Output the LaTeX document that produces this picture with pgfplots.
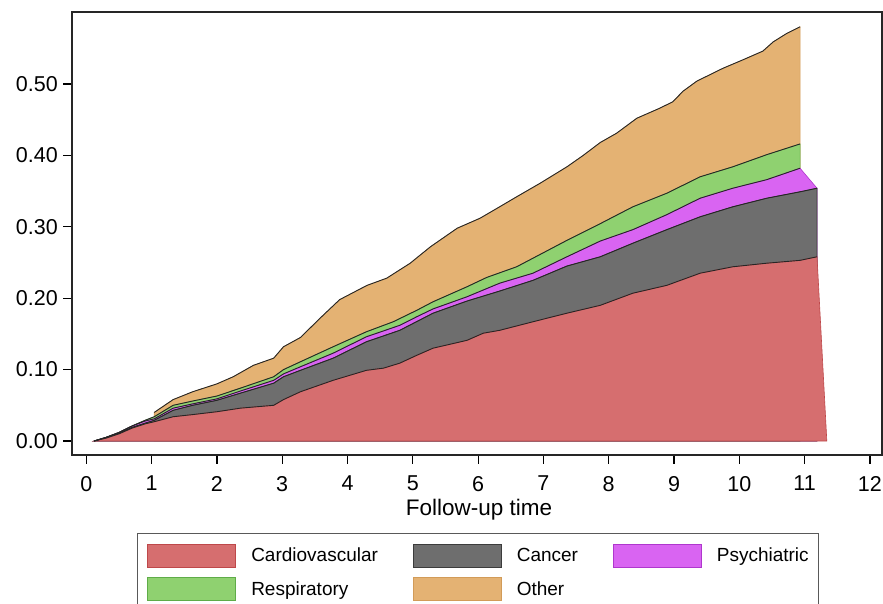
\documentclass[border=0pt]{standalone}
\usepackage{pgfplots}
\usepackage{pgfplotstable}
\pgfplotsset{compat=1.18}
\usepackage{fontspec}
\setmainfont{Liberation Sans}
\definecolor{cv}{RGB}{214,110,111}
\definecolor{cvE}{RGB}{190,72,74}
\definecolor{ca}{RGB}{110,110,110}
\definecolor{caE}{RGB}{60,60,60}
\definecolor{ps}{RGB}{217,100,242}
\definecolor{psE}{RGB}{175,55,205}
\definecolor{re}{RGB}{143,209,112}
\definecolor{reE}{RGB}{95,172,72}
\definecolor{ot}{RGB}{228,178,115}
\definecolor{otE}{RGB}{210,155,88}

\pgfplotstableread{
x y
0.12 0
0.3 0.004
0.5 0.010
0.7 0.018
0.9 0.024
1.04 0.027
1.33 0.034
1.63 0.037
2.0 0.041
2.36 0.046
2.87 0.050
3.02 0.058
3.28 0.069
3.78 0.085
4.29 0.099
4.55 0.102
4.8 0.109
5.06 0.120
5.31 0.130
5.83 0.141
6.08 0.151
6.33 0.155
6.84 0.167
7.36 0.179
7.87 0.190
8.37 0.207
8.89 0.218
9.4 0.235
9.9 0.244
10.42 0.249
10.93 0.253
11.19 0.258
11.34 0
}\tcv

\pgfplotstableread{
x y
0.12 0
0.3 0.005
0.5 0.011
0.7 0.019
0.9 0.025
1.04 0.029
1.33 0.043
1.63 0.050
2.0 0.057
2.36 0.067
2.87 0.081
3.02 0.090
3.28 0.099
3.78 0.116
4.29 0.139
4.8 0.155
5.31 0.179
5.83 0.196
6.33 0.210
6.84 0.225
7.36 0.245
7.87 0.258
8.37 0.277
8.89 0.296
9.4 0.314
9.9 0.328
10.42 0.340
10.93 0.349
11.19 0.354
}\tca

\pgfplotstableread{
x y
0.12 0
0.3 0.005
0.5 0.012
0.7 0.021
0.9 0.028
1.04 0.031
1.33 0.046
1.63 0.052
2.0 0.059
2.36 0.070
2.87 0.085
3.02 0.094
3.28 0.104
3.78 0.123
4.29 0.146
4.8 0.162
5.06 0.174
5.31 0.185
5.83 0.202
6.33 0.221
6.84 0.235
7.36 0.258
7.87 0.280
8.37 0.296
8.89 0.317
9.4 0.340
9.9 0.354
10.42 0.366
10.93 0.382
11.19 0.354
}\tps

\pgfplotstableread{
x y
0.12 0
0.3 0.005
0.5 0.012
0.7 0.021
0.9 0.029
1.04 0.034
1.33 0.050
1.63 0.056
2.0 0.063
2.36 0.074
2.87 0.090
3.02 0.100
3.28 0.111
3.78 0.132
4.29 0.153
4.7 0.167
5.06 0.183
5.31 0.195
5.83 0.216
6.13 0.229
6.59 0.244
6.84 0.256
7.36 0.281
7.82 0.302
8.37 0.328
8.89 0.347
9.4 0.370
9.9 0.384
10.42 0.401
10.93 0.416
}\tre

\pgfplotstableread{
x y
1.04 0.040
1.33 0.058
1.63 0.069
2.0 0.080
2.25 0.090
2.56 0.106
2.87 0.116
3.02 0.132
3.28 0.145
3.58 0.172
3.88 0.198
4.30 0.218
4.6 0.228
4.96 0.249
5.27 0.272
5.68 0.298
6.03 0.312
6.33 0.328
6.59 0.342
6.95 0.361
7.36 0.384
7.61 0.400
7.87 0.418
8.12 0.431
8.43 0.452
8.78 0.466
8.98 0.475
9.14 0.490
9.35 0.504
9.75 0.522
10.06 0.534
10.36 0.546
10.52 0.559
10.73 0.571
10.93 0.580
}\tot

\begin{document}
\begin{tikzpicture}
\begin{axis}[
  at={(72pt,149pt)}, anchor=south west,
  scale only axis, width=810pt, height=443pt,
  xmin=-0.219, xmax=12.185, ymin=-0.0196, ymax=0.6008,
  xtick={0,1,...,12}, ytick={0,0.1,0.2,0.3,0.4,0.5},
  tick pos=left, tick align=outside, major tick length=9pt,
  tick style={black, line width=1.2pt},
  axis line style={black!85, line width=1.4pt},
  /pgf/number format/assume math mode=true,
  tick label style={font=\fontsize{21.5}{25}\selectfont},
  yticklabel style={/pgf/number format/fixed, /pgf/number format/fixed zerofill, /pgf/number format/precision=2, inner sep=0pt, xshift=-5pt},
  xticklabel style={inner sep=0pt, yshift=-12pt},
  xlabel={Follow-up time},
  xlabel style={at={(axis description cs:0.5025,-0.1365)}, anchor=base, font=\fontsize{22.5}{26}\selectfont, inner sep=0pt},
  legend columns=3,
  legend cell align=left,
  legend image code/.code={\draw[#1] (0pt,-11.5pt) rectangle (88pt,11.5pt);},
  legend style={at={(axis description cs:0.0802,-0.1761)}, anchor=north west,
    draw=black!65, line width=1pt, inner xsep=10pt, inner ysep=10pt,
    font=\fontsize{19}{22}\selectfont, row sep=10pt,
    nodes={inner sep=0pt},
    /tikz/every odd column/.append style={column sep=15pt},
    /tikz/every even column/.append style={column sep=35pt}},
]
\addlegendimage{fill=cv, draw=cvE, line width=0.8pt}
\addlegendentry{Cardiovascular}
\addlegendimage{fill=ca, draw=caE, line width=0.8pt}
\addlegendentry{Cancer}
\addlegendimage{fill=ps, draw=psE, line width=0.8pt}
\addlegendentry{Psychiatric}
\addlegendimage{fill=re, draw=reE, line width=0.8pt}
\addlegendentry{Respiratory}
\addlegendimage{fill=ot, draw=otE, line width=0.8pt}
\addlegendentry{Other}

\addplot[fill=ot, draw=otE, line width=0.6pt, forget plot] table {\tot} \closedcycle;
\addplot[fill=re, draw=reE, line width=0.6pt, forget plot] table {\tre} \closedcycle;
\addplot[fill=ps, draw=psE, line width=0.6pt, forget plot] table {\tps} \closedcycle;
\addplot[fill=ca, draw=caE, line width=0.6pt, forget plot] table {\tca} \closedcycle;
\addplot[fill=cv, draw=cvE, line width=0.6pt, forget plot] table {\tcv} \closedcycle;

\addplot[black!85, line width=0.9pt, forget plot] table {\tot};
\addplot[black!85, line width=0.9pt, forget plot] table {\tre};
\addplot[black!85, line width=0.9pt, forget plot, restrict x to domain=0:11] table {\tps};
\addplot[black!85, line width=0.9pt, forget plot, restrict x to domain=0:11.2] table {\tca};
\addplot[black!85, line width=0.9pt, forget plot, restrict x to domain=0:11.2] table {\tcv};
\end{axis}
\pgfresetboundingbox
\path[use as bounding box] (0pt,0pt) rectangle (883pt,604pt);
\end{tikzpicture}
\end{document}
